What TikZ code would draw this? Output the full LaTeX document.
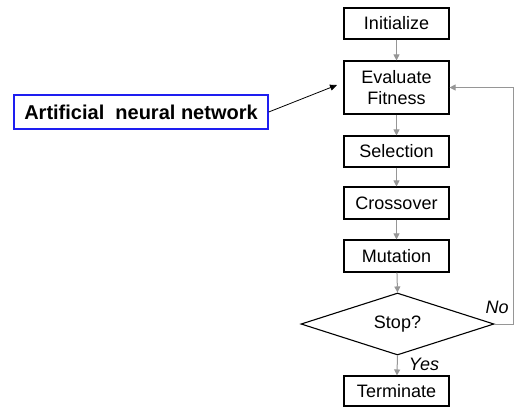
\documentclass[tikz,border=0pt]{standalone}
\usepackage{fontspec}
\setmainfont{Liberation Sans}
\usetikzlibrary{arrows.meta,shapes.geometric}
\definecolor{linkgray}{RGB}{150,150,150}
\definecolor{annblue}{RGB}{30,30,240}
\tikzset{
  stepbox/.style={draw=black,line width=1.1bp,minimum width=105bp,inner sep=0pt,align=center,font=\fontsize{18bp}{21.5bp}\selectfont,fill=white},
  flow/.style={draw=linkgray,line width=1bp,-{Triangle[length=6bp,width=6bp]}},
}
\begin{document}
\begin{tikzpicture}[x=1bp,y=-1bp]
\useasboundingbox (0,0) rectangle (515,408);
\node[stepbox,minimum height=31bp] (init) at (396.5,23.5) {Initialize};
\node[stepbox,minimum height=53bp] (eval) at (396.5,87.5) {Evaluate\\Fitness};
\node[stepbox,minimum height=31bp] (sel) at (396.5,151.5) {Selection};
\node[stepbox,minimum height=32bp] (cross) at (396.5,203) {Crossover};
\node[stepbox,minimum height=32bp] (mut) at (396.5,256) {Mutation};
\node[draw=black,line width=1.1bp,diamond,aspect=3.1,minimum width=193bp,minimum height=62bp,inner sep=0pt] (stop) at (397.5,324) {};
\node[font=\fontsize{18bp}{21bp}\selectfont] (stoptext) at (397.5,324) {Stop?};
\node[stepbox,minimum height=30bp] (term) at (396.5,391) {Terminate};
\node[draw=annblue,line width=1.4bp,minimum width=254bp,minimum height=34bp,inner sep=0pt,font=\bfseries\fontsize{20bp}{22bp}\selectfont] (ann) at (141,112) {Artificial\ \ neural network};
\node[font=\itshape\fontsize{18bp}{21bp}\selectfont] (no) at (497,307) {No};
\node[font=\itshape\fontsize{18bp}{21bp}\selectfont] (yes) at (424,364) {Yes};
\coordinate (annend) at (337,85);
\coordinate (loopcorner) at (513,324);
\draw[flow] (init) -- (eval);
\draw[flow] (eval) -- (sel);
\draw[flow] (sel) -- (cross);
\draw[flow] (cross) -- (mut);
\draw[flow] (mut) -- (stop.north);
\draw[flow] (stop.south) -- (term);
\draw[flow] (stop.east) -- (loopcorner) |- (eval.east);
\draw[black,line width=0.8bp,-{Triangle[length=7bp,width=6bp]}] (ann.east) -- (annend);
\end{tikzpicture}
\end{document}
